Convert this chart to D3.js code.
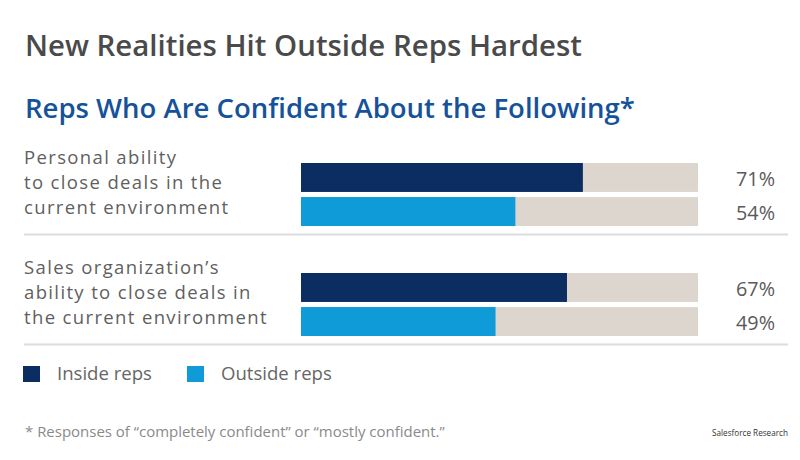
<!DOCTYPE html>
<html>
<head>
<meta charset="utf-8">
<script src="https://cdn.jsdelivr.net/npm/d3@7"></script>
<style>
  html, body { margin: 0; padding: 0; background: #fff; }
  svg { display: block; }
  text { font-family: "Open Sans", "Noto Sans", sans-serif; }
</style>
</head>
<body>
<svg id="chart" width="800" height="460"></svg>
<script>
// ---- data ----
const categories = [
  ["Personal ability", "to close deals in the", "current environment"],
  ["Sales organization’s", "ability to close deals in", "the current environment"]
];
const categoryKeys = ["personal", "organization"];
const seriesNames = ["Inside reps", "Outside reps"];
const insideValues = [71, 67];
const outsideValues = [54, 49];
const colors = ["#0b2d62", "#0f9bd7"];
const trackColor = "#ddd6cf";

const svg = d3.select("#chart");

// font size that makes a given string a target width
function sizeFor(str, target, base, weight) {
  const t = svg.append("text").attr("font-size", base).attr("font-weight", weight || 400).text(str);
  const w = t.node().getComputedTextLength();
  t.remove();
  return base * target / w;
}
function spacingFor(str, target, size) {
  const t = svg.append("text").attr("font-size", size).text(str);
  const w = t.node().getComputedTextLength();
  t.remove();
  return (target - w) / str.length;
}
function fit(sel, target) {
  const w = sel.node().getComputedTextLength();
  const fs = parseFloat(sel.attr("font-size"));
  sel.attr("font-size", (fs * target / w).toFixed(2));
  return sel;
}

// titles
fit(svg.append("text").attr("x", 25).attr("y", 55.5)
  .attr("font-size", 28).attr("fill", "#4a4a4a").attr("font-weight", 600)
  .text("New Realities Hit Outside Reps Hardest"), 557);
fit(svg.append("text").attr("x", 25).attr("y", 118)
  .attr("font-size", 28).attr("fill", "#16529a").attr("font-weight", 600)
  .text("Reps Who Are Confident About the Following*"), 610);

// scales
const x = d3.scaleLinear().domain([0, 100]).range([301, 698]);
const yGroup = d3.scaleBand().domain(categoryKeys).range([163, 383]).padding(0);
const ySeries = d3.scaleBand().domain(seriesNames).range([0, 63]).paddingInner(0.15);

const labelSize = 18.5;
const labelSpacing = spacingFor("the current environment", 244, labelSize);
const valueSize = sizeFor("54%", 39, 16);

const rows = categoryKeys.map((k, i) => ({
  key: k, lines: categories[i],
  values: [insideValues[i], outsideValues[i]]
}));

const g = svg.selectAll("g.grp").data(rows).join("g")
  .attr("class", "grp")
  .attr("transform", d => `translate(0,${yGroup(d.key)})`);

// category labels
g.each(function(d) {
  const t = d3.select(this);
  d.lines.forEach((ln, j) => {
    t.append("text").attr("x", 24).attr("y", 1 + j * 25)
      .attr("font-size", labelSize).attr("letter-spacing", labelSpacing.toFixed(2))
      .attr("fill", "#5f5f5f").text(ln);
  });
});

// separator
g.append("line").attr("x1", 24).attr("x2", 788)
  .attr("y1", 71.5).attr("y2", 71.5)
  .attr("stroke", "#dcdcdc").attr("stroke-width", 2);

// bars
const bars = g.selectAll("g.bar").data(d => d.values.map((v, j) => ({ v, s: seriesNames[j], c: colors[j] })))
  .join("g").attr("class", "bar");
bars.append("rect").attr("x", x(0)).attr("width", x(100) - x(0))
  .attr("y", d => ySeries(d.s)).attr("height", ySeries.bandwidth())
  .attr("fill", trackColor);
bars.append("rect").attr("x", x(0)).attr("width", d => x(d.v) - x(0))
  .attr("y", d => ySeries(d.s)).attr("height", ySeries.bandwidth())
  .attr("fill", d => d.c);
bars.append("text").attr("x", 775)
  .attr("y", d => ySeries(d.s) + ySeries.bandwidth() / 2 + 1)
  .attr("dominant-baseline", "central").attr("text-anchor", "end")
  .attr("font-size", valueSize).attr("fill", "#5a5a5a")
  .text(d => d.v + "%");

// legend
const legendX = [23, 187];
const lg = svg.selectAll("g.leg").data(seriesNames).join("g").attr("class", "leg")
  .attr("transform", (d, i) => `translate(${legendX[i]},366)`);
lg.append("rect").attr("width", 17).attr("height", 16).attr("fill", (d, i) => colors[i]);
const legSize = sizeFor("Inside reps", 95, 17);
lg.append("text").attr("x", 34).attr("y", 14).attr("font-size", legSize)
  .attr("fill", "#666").text(d => d);

// footnote
fit(svg.append("text").attr("x", 25).attr("y", 437)
  .attr("font-size", 14).attr("fill", "#8a8a8a")
  .text("* Responses of “completely confident” or “mostly confident.”"), 420);
fit(svg.append("text").attr("x", 712).attr("y", 436)
  .attr("font-size", 9).attr("fill", "#333")
  .text("Salesforce Research"), 76);
</script>
</body>
</html>
